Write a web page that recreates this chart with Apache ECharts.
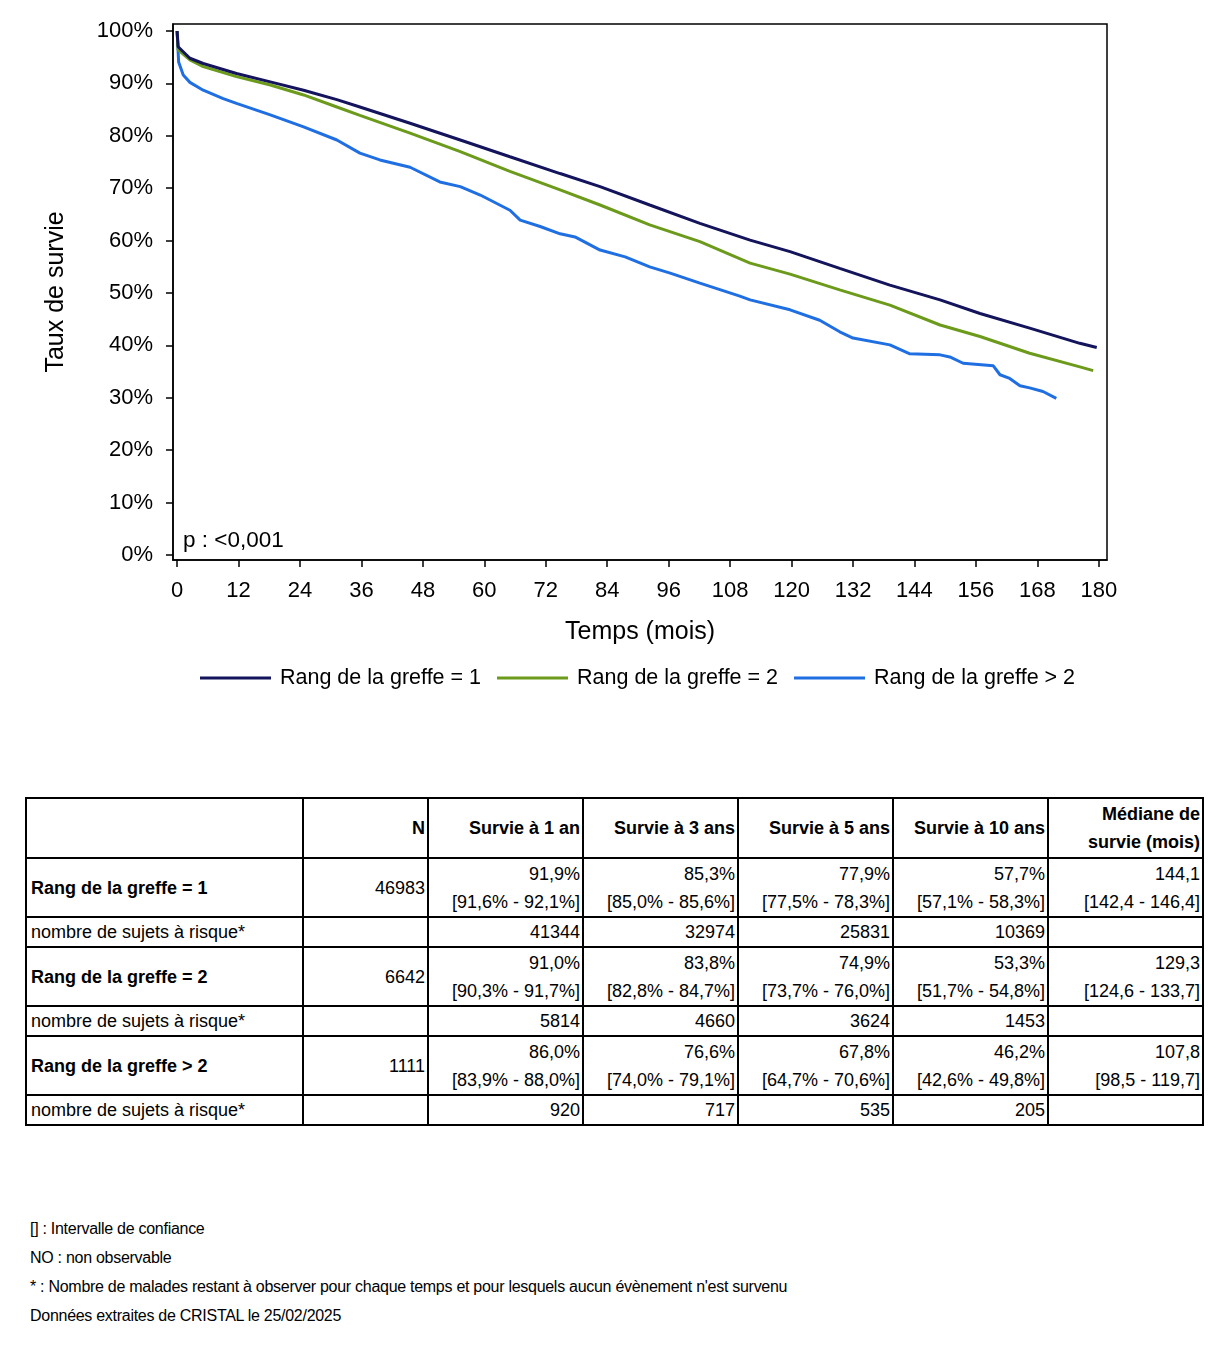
<!DOCTYPE html>
<html><head><meta charset="utf-8">
<script src="https://cdn.jsdelivr.net/npm/echarts@6/dist/echarts.min.js"></script>
<style>
body{margin:0;background:#fff;font-family:"Liberation Sans",Arial,sans-serif;}
#chart{position:absolute;left:0;top:0;width:1228px;height:720px;}
#tbl{position:absolute;left:25px;top:797px;border-collapse:collapse;table-layout:fixed;font-size:18px;color:#000;}
#tbl td{border:2px solid #000;padding:0 2px 0 4px;text-align:right;vertical-align:middle;line-height:28px;white-space:nowrap;}
#tbl td.lab{text-align:left;}
#tbl tr.small td{line-height:24px;}
#tbl .b{font-weight:bold;}
#notes{position:absolute;left:30px;top:1214px;font-size:16px;line-height:29px;color:#000;letter-spacing:-0.28px;}
</style></head>
<body>
<div id="chart"></div>
<table id="tbl"></table>
<div id="notes"></div>
<script>
// ---- Curve data (months, survival %) ----
const monthsRank1 = [0,0.2,2.5,5.1,11.6,18.2,24.7,31.2,35.7,45.5,55.3,65,74.8,82.6,92.3,102.1,111.9,119.7,129.4,139.2,149,156.8,166.5,176.3,179.6];
const survRank1   = [100,97.0,94.8,93.8,91.9,90.3,88.7,86.9,85.5,82.4,79.2,76.0,72.8,70.3,66.8,63.3,60.1,57.9,54.7,51.5,48.7,46.1,43.3,40.4,39.6];
const monthsRank2 = [0,0.2,2.5,5.1,11.6,18.2,24.7,31.2,35.7,45.5,55.3,65,74.8,82.6,92.3,102.1,111.9,119.7,129.4,139.2,149,156.8,166.5,176.3,178.9];
const survRank2   = [100,96.4,94.5,93.2,91.3,89.7,87.8,85.5,83.9,80.5,77.0,73.2,69.7,66.8,63.0,59.8,55.7,53.6,50.6,47.7,43.9,41.7,38.5,35.9,35.2];
const monthsRank3 = [0,0.3,1.2,2.5,5.1,9,11.6,18.2,24.7,31.2,35.7,39.6,45.5,51.3,55.3,59.2,65,67,70.9,74.8,77.7,82.6,87.5,92.3,96.3,102.1,109.9,111.9,119.7,125.5,129.4,132,139.2,143.1,149,150.9,153.5,159.4,160.7,162.6,164.6,166.5,169.1,171.7];
const survRank3   = [100,94.1,91.6,90.2,88.7,87.1,86.2,84.0,81.7,79.2,76.7,75.4,74.0,71.2,70.3,68.7,65.8,63.9,62.7,61.3,60.7,58.2,56.9,55.0,53.8,51.9,49.4,48.7,46.8,44.8,42.6,41.4,40.1,38.4,38.2,37.8,36.6,36.1,34.4,33.7,32.3,31.9,31.2,29.9];
const seriesNames = ['Rang de la greffe = 1','Rang de la greffe = 2','Rang de la greffe > 2'];
const xTicks = [0,12,24,36,48,60,72,84,96,108,120,132,144,156,168,180];
const yTicks = [0,10,20,30,40,50,60,70,80,90,100];

// ---- Table data ----
const colHeaders = ['', 'N', 'Survie à 1 an', 'Survie à 3 ans', 'Survie à 5 ans', 'Survie à 10 ans', 'Médiane de<br>survie (mois)'];
const groupN = ['46983','6642','1111'];
const survEst = [
  ['91,9%','85,3%','77,9%','57,7%','144,1'],
  ['91,0%','83,8%','74,9%','53,3%','129,3'],
  ['86,0%','76,6%','67,8%','46,2%','107,8']
];
const survCI = [
  ['[91,6% - 92,1%]','[85,0% - 85,6%]','[77,5% - 78,3%]','[57,1% - 58,3%]','[142,4 - 146,4]'],
  ['[90,3% - 91,7%]','[82,8% - 84,7%]','[73,7% - 76,0%]','[51,7% - 54,8%]','[124,6 - 133,7]'],
  ['[83,9% - 88,0%]','[74,0% - 79,1%]','[64,7% - 70,6%]','[42,6% - 49,8%]','[98,5 - 119,7]']
];
const atRisk = [
  ['41344','32974','25831','10369'],
  ['5814','4660','3624','1453'],
  ['920','717','535','205']
];
const atRiskLabel = 'nombre de sujets à risque*';
const notes = ['[] : Intervalle de confiance','NO : non observable',"* : Nombre de malades restant à observer pour chaque temps et pour lesquels aucun évènement n'est survenu",'Données extraites de CRISTAL le 25/02/2025'];

const colors = ['#14145c','#6c9b1c','#1f6fe3'];
const pairs = (m, s) => m.map((v, i) => [v, s[i]]);

const chart = echarts.init(document.getElementById('chart'), null, {renderer:'canvas'});
const font = '"Liberation Sans", Arial, sans-serif';
chart.setOption({
  animation:false,
  backgroundColor:'#fff',
  grid:{left:173, top:24, width:934, height:536, show:true, borderColor:'#000', borderWidth:1.5, backgroundColor:'transparent'},
  xAxis:{type:'value', min:-0.8, max:181.6,
    name:'Temps (mois)', nameLocation:'middle', nameGap:60,
    nameTextStyle:{fontSize:25, color:'#000', fontFamily:font},
    axisLine:{show:true, onZero:false, lineStyle:{color:'#000', width:1.5}},
    axisTick:{show:true, length:7, lineStyle:{color:'#000', width:1.5}, customValues:xTicks},
    axisLabel:{fontSize:22, color:'#000', fontFamily:font, margin:20, customValues:xTicks},
    splitLine:{show:false}},
  yAxis:{type:'value', min:-0.95, max:101.34,
    name:'Taux de survie', nameLocation:'middle', nameGap:104,
    nameTextStyle:{fontSize:25, color:'#000', fontFamily:font},
    axisLine:{show:true, onZero:false, lineStyle:{color:'#000', width:1.5}},
    axisTick:{show:true, length:7, lineStyle:{color:'#000', width:1.5}, customValues:yTicks},
    axisLabel:{fontSize:22, color:'#000', fontFamily:font, margin:20, customValues:yTicks, formatter:v=>v+'%'},
    splitLine:{show:false}},
  legend:{left:195, top:662, itemWidth:71, itemHeight:3, itemGap:16, icon:'rect',
    textStyle:{fontSize:21.5, color:'#000', fontFamily:font, padding:[0,0,0,4]},
    data:seriesNames},
  graphic:[{type:'text', left:183, top:529, style:{text:'p : <0,001', fill:'#000', font:'22.5px '+font}}],
  series:[
    {name:seriesNames[0], type:'line', data:pairs(monthsRank1,survRank1), showSymbol:false, color:colors[0], lineStyle:{width:3}, z:3},
    {name:seriesNames[1], type:'line', data:pairs(monthsRank2,survRank2), showSymbol:false, color:colors[1], lineStyle:{width:3}, z:2},
    {name:seriesNames[2], type:'line', data:pairs(monthsRank3,survRank3), showSymbol:false, color:colors[2], lineStyle:{width:3}, z:1}
  ]
});

// ---- Build table ----
const widths = [277,125,155,155,155,155,155];
const tbl = document.getElementById('tbl');
let html = '<colgroup>' + widths.map(w=>'<col style="width:'+w+'px">').join('') + '</colgroup>';
html += '<tr style="height:60px">' + colHeaders.map((h,i)=>'<td class="b'+(i===0?' lab':'')+'">'+h+'</td>').join('') + '</tr>';
for (let g=0; g<3; g++){
  html += '<tr style="height:59px"><td class="lab b">'+seriesNames[g]+'</td><td>'+groupN[g]+'</td>';
  for (let c=0;c<5;c++) html += '<td>'+survEst[g][c]+'<br>'+survCI[g][c]+'</td>';
  html += '</tr>';
  html += '<tr class="small" style="height:30px"><td class="lab">'+atRiskLabel+'</td><td></td>';
  for (let c=0;c<4;c++) html += '<td>'+atRisk[g][c]+'</td>';
  html += '<td></td></tr>';
}
tbl.innerHTML = html;
document.getElementById('notes').innerHTML = notes.map(n=>'<div>'+n+'</div>').join('');
</script>
</body></html>
